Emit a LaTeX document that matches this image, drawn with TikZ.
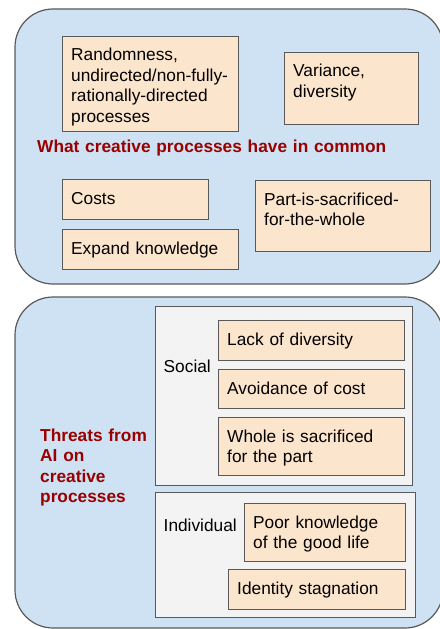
\documentclass[tikz,border=0pt]{standalone}
\usepackage{fontspec}
\setmainfont{Liberation Sans}
\definecolor{grpfill}{HTML}{CFE2F3}
\definecolor{itemfill}{HTML}{FCE5CD}
\definecolor{subfill}{HTML}{F3F3F3}
\definecolor{edgecol}{HTML}{595959}
\definecolor{titlecol}{HTML}{990000}
\tikzset{
  grpbox/.style={draw=edgecol, fill=grpfill, line width=1.2bp, rounded corners=38bp},
  subbox/.style={draw=edgecol, fill=subfill, line width=1bp, anchor=north west, inner sep=0pt},
  itembox/.style={draw=edgecol, fill=itemfill, line width=1bp, anchor=north west, inner sep=0pt},
  txt/.style={anchor=base west, inner sep=0pt, text width=400bp, align=left,
    font=\fontsize{17.3bp}{20.4bp}\selectfont},
  ttl/.style={txt, text=titlecol, font=\fontsize{17.3bp}{20.5bp}\selectfont\bfseries},
}
\newcommand{\itemtext}[2]{\node[txt] (#1T) at ([shift={(9bp,-25bp)}]#1.north west) {#2};}
\begin{document}
\begin{tikzpicture}[x=1bp,y=-1bp]
\useasboundingbox (0,0) rectangle (440,629);
\clip (0,0) rectangle (440,629);
% top group
\draw[grpbox] (15,9) rectangle (443,284);
\node[itembox, minimum width=176bp, minimum height=95bp] (rand) at (62,36) {};
\itemtext{rand}{Randomness,\\undirected/non-fully-\\rationally-directed\\processes}
\node[itembox, minimum width=134bp, minimum height=72bp] (var) at (284,52) {};
\itemtext{var}{Variance,\\diversity}
\node[ttl] (title) at (37,153) {What creative processes have in common};
\node[itembox, minimum width=146bp, minimum height=40bp] (costs) at (62,179) {};
\itemtext{costs}{Costs}
\node[itembox, minimum width=176bp, minimum height=40bp] (expand) at (62,229) {};
\itemtext{expand}{Expand knowledge}
\node[itembox, minimum width=175bp, minimum height=71bp] (part) at (255,180) {};
\itemtext{part}{Part-is-sacrificed-\\for-the-whole}
% bottom group
\draw[grpbox] (15,297) rectangle (443,628);
\node[ttl] (threats) at (40,441) {Threats from\\AI on\\creative\\processes};
\node[subbox, minimum width=257bp, minimum height=179bp] (social) at (155,306) {};
\node[txt] (socialT) at (163.5,372) {Social};
\node[itembox, minimum width=186bp, minimum height=40bp] (lack) at (218,320) {};
\itemtext{lack}{Lack of diversity}
\node[itembox, minimum width=186bp, minimum height=39bp] (avoid) at (218,369) {};
\itemtext{avoid}{Avoidance of cost}
\node[itembox, minimum width=186bp, minimum height=58bp] (whole) at (218,417) {};
\itemtext{whole}{Whole is sacrificed\\for the part}
\node[subbox, minimum width=260bp, minimum height=125bp] (indiv) at (155,492) {};
\node[txt] (indivT) at (163.5,531) {Individual};
\node[itembox, minimum width=161bp, minimum height=58bp] (poor) at (244,503) {};
\itemtext{poor}{Poor knowledge\\of the good life}
\node[itembox, minimum width=177bp, minimum height=40bp] (ident) at (228,569) {};
\itemtext{ident}{Identity stagnation}
\end{tikzpicture}
\end{document}
